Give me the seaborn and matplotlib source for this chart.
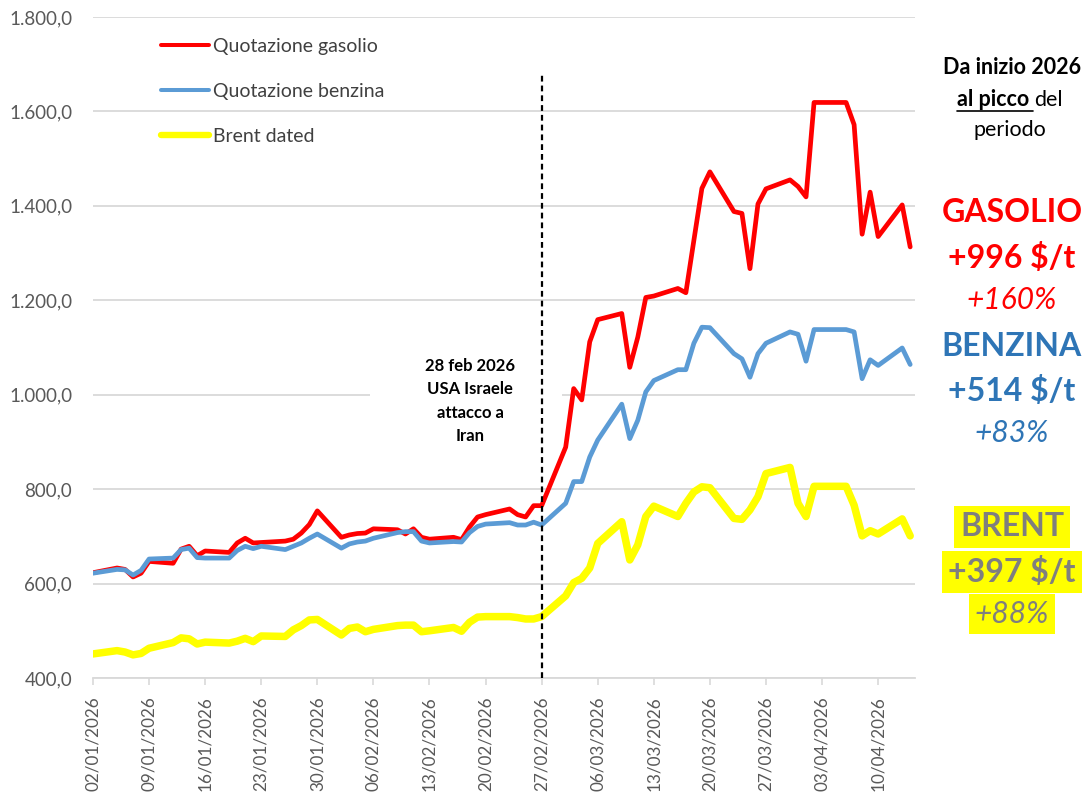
import numpy as np
import pandas as pd
import matplotlib
matplotlib.use("Agg")
import matplotlib.pyplot as plt
import matplotlib.dates as mdates
from matplotlib.lines import Line2D
from matplotlib.patches import Rectangle
from matplotlib.ticker import FuncFormatter
import seaborn as sns

# ---------------- data ----------------
dates = pd.bdate_range("2026-01-02", "2026-04-14")

gasolio = [623, 633, 630, 614, 622, 647, 643, 673, 679, 659, 669, 666, 686, 696, 686, 687, 690, 694, 707, 725, 754,
           698, 703, 706, 707, 716, 714, 705, 716, 698, 694, 698, 693, 720, 741, 746, 758, 746, 741, 765, 765,
           889, 1013, 989, 1112, 1159, 1172, 1058, 1122, 1206, 1209, 1225, 1216, 1327, 1437, 1472, 1388, 1384, 1267,
           1404, 1436, 1455, 1441,
           1419, 1619, 1619, 1619, 1572, 1340, 1429, 1335, 1402, 1313]
benzina = [622, 630, 629, 618, 628, 652, 654, 672, 675, 655, 654, 654, 670, 679, 674, 679, 672, 679, 686, 696, 705,
           675, 684, 688, 690, 696, 708, 710, 710, 690, 686, 689, 688, 708, 721, 726, 729, 724, 724, 730, 724,
           770, 816, 816, 868, 904, 980, 907, 946, 1006, 1030, 1053, 1053, 1109, 1143, 1142, 1087, 1076, 1037,
           1087, 1109, 1133, 1128,
           1071, 1138, 1138, 1138, 1133, 1034, 1074, 1062, 1099, 1064]
brent = [451, 458, 455, 449, 452, 463, 475, 485, 483, 472, 476, 474, 478, 484, 477, 489, 488, 502, 511, 523, 524,
         491, 505, 508, 498, 503, 511, 512, 512, 498, 500, 507, 499, 518, 529, 530, 530, 528, 525, 525, 530,
         574, 602, 611, 633, 685, 731, 650, 682, 742, 764, 742, 770, 794, 805, 803, 738, 736, 756,
         784, 833, 846, 770,
         742, 806, 806, 806, 766, 701, 712, 705, 737, 701]

series_names = ["Quotazione gasolio", "Quotazione benzina", "Brent dated"]
series_colors = ["#FF0000", "#5B9BD5", "#FFFF00"]
series_widths = [3.4, 3.4, 5.4]

event_date = pd.Timestamp("2026-02-27")
event_text = "28 feb 2026\nUSA Israele\nattacco a\nIran"
tick_start = pd.Timestamp("2026-01-02")
y_ticks = [400, 600, 800, 1000, 1200, 1400, 1600, 1800]

# ---------------- frame ----------------
df = pd.DataFrame({
    "date": np.tile(dates, 3),
    "value": gasolio + benzina + brent,
    "series": np.repeat(series_names, len(dates)),
})

sns.set_style("white")
FONT = "Lato"
plt.rcParams["font.family"] = [FONT, "DejaVu Sans"]

W, H = 1090, 795
fig = plt.figure(figsize=(W / 100, H / 100), dpi=100)
ax = fig.add_axes([93 / W, 1 - 678 / H, (915 - 93) / W, (678 - 17) / H])


def px_fig(x, y):
    return x / W, 1 - y / H


sns.lineplot(data=df, x="date", y="value", hue="series", hue_order=series_names,
             size="series", size_order=series_names,
             sizes=dict(zip(series_names, series_widths)),
             palette=dict(zip(series_names, series_colors)),
             legend=False, ax=ax, zorder=3)
for ln in ax.lines:
    ln.set_solid_capstyle("round")
    ln.set_solid_joinstyle("round")
# benzina on top of gasolio
ax.lines[1].set_zorder(3.5)

# axes styling
ax.set_ylim(400, 1800)
ax.set_xlim(tick_start, tick_start + pd.Timedelta(days=102.6))
ax.set_yticks(y_ticks)
ax.yaxis.set_major_formatter(FuncFormatter(
    lambda v, p: f"{v:,.1f}".replace(",", "X").replace(".", ",").replace("X", ".")))
ticks = pd.date_range(tick_start, periods=15, freq="7D")
ax.set_xticks(ticks)
ax.xaxis.set_major_formatter(mdates.DateFormatter("%d/%m/%Y"))
ax.set_xlabel("")
ax.set_ylabel("")
ax.grid(axis="y", color="#D9D9D9", linewidth=1.3, zorder=0.5)
ax.set_axisbelow(True)
for s in ["left", "top", "right"]:
    ax.spines[s].set_visible(False)
ax.spines["bottom"].set_color("#D9D9D9")
ax.spines["bottom"].set_linewidth(1.3)
ax.tick_params(axis="y", length=0, pad=15, labelsize=13.5, labelcolor="#595959")
ax.tick_params(axis="x", length=5, width=1.2, color="#D9D9D9", pad=8, labelsize=12.3,
               labelcolor="#595959", rotation=90, bottom=True)

# event line and label
ax.axvline(event_date, ymin=0, ymax=(1683 - 400) / 1400, color="black", lw=1.6,
           dashes=(2.6, 1.8), zorder=4)
x0, y0 = px_fig(370, 460)
x1, y1 = px_fig(562, 345)
ax.add_patch(Rectangle((x0, y0), x1 - x0, y1 - y0, transform=fig.transFigure,
                       facecolor="white", edgecolor="none", zorder=1))
fig.text(*px_fig(470, 401), event_text, ha="center", va="center", fontsize=12,
         fontweight="bold", color="black", linespacing=1.55)

# legend
handles = [Line2D([], [], color=c, lw=w * 0.85, solid_capstyle="round")
           for c, w in zip(series_colors, series_widths)]
leg = fig.legend(handles, series_names, loc="upper left",
                 bbox_to_anchor=px_fig(161, 38), frameon=False, fontsize=14,
                 handlelength=2.45, handletextpad=0.2, labelspacing=1.43,
                 labelcolor="#404040", borderpad=0, borderaxespad=0)

# right annotations
cx = 1010
fig.text(*px_fig(cx + 2, 68), "Da inizio 2026", ha="center", va="center", fontsize=15.5,
         fontweight="bold", color="black")
fig.text(*px_fig(cx, 130), "periodo", ha="center", va="center", fontsize=15.5, color="black")

fig.canvas.draw()
renderer = fig.canvas.get_renderer()
t1 = fig.text(0, 0, "al picco ", fontsize=15.5, fontweight="bold", color="black", va="center")
t2 = fig.text(0, 0, "del", fontsize=15.5, color="black", va="center")
w1 = t1.get_window_extent(renderer).width
w2 = t2.get_window_extent(renderer).width
start = cx - (w1 + w2) / 2
t1.set_position(px_fig(start, 100))
t2.set_position(px_fig(start + w1, 100))
ul_x0, ul_y = px_fig(start, 111)
ul_x1, _ = px_fig(start + w1 - 2, 111)
fig.add_artist(Line2D([ul_x0, ul_x1], [ul_y, ul_y], transform=fig.transFigure,
                      color="black", lw=1.2))

labels = [
    ("GASOLIO", 213, "#FF0000", "normal", "bold", 23, None),
    ("+996 $/t", 258, "#FF0000", "normal", "bold", 23, None),
    ("+160%", 300, "#FF0000", "italic", "normal", 21.5, None),
    ("BENZINA", 347, "#2E75B6", "normal", "bold", 23, None),
    ("+514 $/t", 391, "#2E75B6", "normal", "bold", 23, None),
    ("+83%", 433, "#2E75B6", "italic", "normal", 21.5, None),
    ("BRENT", 527, "#7F7F7F", "normal", "bold", 23, "#FFFF00"),
    ("+397 $/t", 572, "#7F7F7F", "normal", "bold", 23, "#FFFF00"),
    ("+88%", 614, "#7F7F7F", "italic", "normal", 21.5, "#FFFF00"),
]
for txt, y, col, sty, wt, fs, bg in labels:
    kw = {}
    if bg:
        kw["bbox"] = dict(boxstyle="square,pad=0.2", facecolor=bg, edgecolor="none")
    fig.text(*px_fig(cx + 2, y), txt, ha="center", va="center", fontsize=fs,
             fontstyle=sty, fontweight=wt, color=col, **kw)

fig.savefig("out.png", dpi=100)
